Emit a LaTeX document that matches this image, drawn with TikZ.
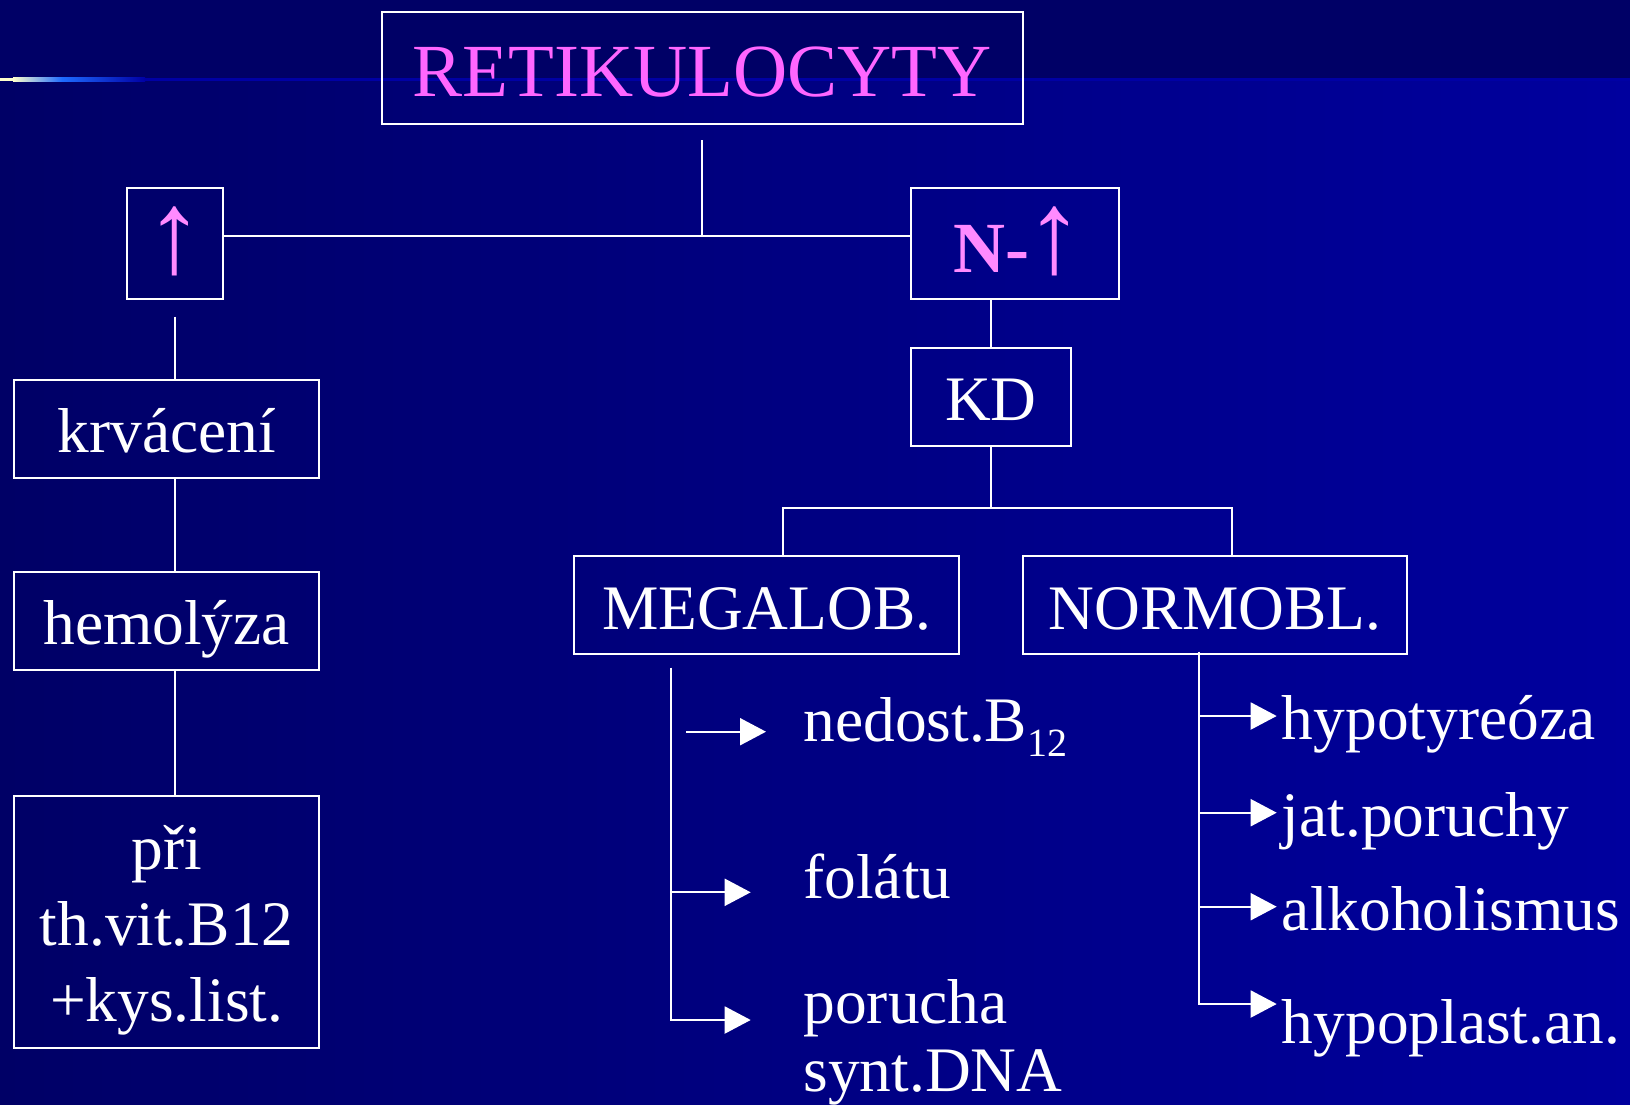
\documentclass[tikz,border=0pt]{standalone}
\usepackage{fontspec}
\setmainfont{Liberation Serif}
\usetikzlibrary{arrows.meta}
\definecolor{bgdark}{HTML}{000066}
\definecolor{bgright}{HTML}{00009E}
\definecolor{pinkA}{HTML}{FF66FF}
\definecolor{pinkB}{HTML}{FF8AFF}
\definecolor{glowline}{HTML}{0000A4}
\definecolor{cream}{HTML}{FFFFCC}
\definecolor{brightblue}{HTML}{1E6BFF}
\newcommand{\bigup}{{\fontsize{117}{120}\selectfont ↑}}
\begin{document}
\begin{tikzpicture}[x=1pt,y=-1pt,
  box/.style={draw=white, line width=2pt, inner sep=0pt, text depth=0pt, align=center},
  body/.style={font=\fontsize{63.4}{76.2}\selectfont, text=white},
  link/.style={draw=white, line width=2pt},
  arr/.style={link, -{Triangle[length=26pt,width=27pt]}},
  item/.style={body, anchor=base west, inner sep=0pt}]
\useasboundingbox (0,0) rectangle (1630,1104);
% background
\fill[bgdark] (0,0) rectangle (1630,1104);
\shade[left color=bgdark, right color=bgright] (0,79) rectangle (1630,1104);
\fill[glowline] (145,77.5) rectangle (1630,81);
\fill[cream] (0,77.5) rectangle (13,81);
\shade[left color=cream, right color=brightblue] (13,77.5) rectangle (62,81);
\shade[left color=brightblue, right color=glowline] (62,77.5) rectangle (145,81);

% boxes
\node[box, minimum width=641.5pt, minimum height=112.3pt, text height=57.7pt,
      font=\fontsize{75}{80}\selectfont, text=pinkA] (ret) at (702.25,67.85) {RETIKULOCYTY};
\node[box, minimum width=95.7pt, minimum height=111pt, text height=57.8pt,
      font=\fontsize{72}{80}\selectfont, text=pinkB] (up) at (174.65,243.8) {\bigup};
\node[box, minimum width=208pt, minimum height=111pt, text height=57.8pt,
      font=\fontsize{72}{80}\selectfont, text=pinkB] (nup) at (1015,243.8) {\kern7pt\textbf{N-}\kern-4pt\bigup};
\node[box, body, minimum width=160.3pt, minimum height=98pt, text height=46.8pt] (kd) at (990.85,397.3) {KD};
\node[box, body, minimum width=384.6pt, minimum height=98pt, text height=47.4pt] (mega) at (766.7,605.3) {MEGALOB.};
\node[box, body, minimum width=384.6pt, minimum height=98pt, text height=47.4pt] (norm) at (1215.1,605.3) {NORMOBL.};
\node[box, body, minimum width=305.3pt, minimum height=98.3pt, text height=47.1pt] (krv) at (166.65,429.15) {krvácení};
\node[box, body, minimum width=305.3pt, minimum height=97.7pt, text height=45.7pt] (hem) at (166.65,621.15) {hemolýza};
\node[box, body, minimum width=305.3pt, minimum height=252pt, text height=0pt, text depth=104.8pt] (pri) at (166.65,921.7)
  {\begin{tabular}[t]{@{}c@{}}při\\th.vit.B12\\+kys.list.\end{tabular}};

% tree connectors
\coordinate (hj) at (702.7,236.3);
\draw[link] ([yshift=-15.3pt]ret.south) -- (ret.south |- hj);
\draw[link] (up.east |- hj) -- (nup.west |- hj);
\draw[link] (kd.north |- nup.south) -- (kd.north);
\coordinate (kdj) at (990.85,508.3);
\coordinate (mj) at (782.5,508.3);
\coordinate (nj) at (1231.5,508.3);
\draw[link] (kd.south) -- (kd.south |- kdj);
\draw[link] (mj |- mega.north) -- (mj) -- (nj) -- (nj |- norm.north);
\draw[link] ([yshift=-16.4pt]up.south) -- (up.south |- krv.north);
\draw[link] (up.south |- krv.south) -- (up.south |- hem.north);
\draw[link] (up.south |- hem.south) -- (up.south |- pri.north);

% megaloblastic list
\node[item] (ned) at (803.3,741) {nedost.B\raisebox{-15pt}{\fontsize{40}{40}\selectfont 12}};
\node[item] (fol) at (803.3,898.3) {folátu};
\node[item, font=\fontsize{63.4}{68.4}\selectfont] (por) at (803.3,1023.3)
  {\begin{tabular}[t]{@{}l@{}}porucha\\synt.DNA\end{tabular}};
\coordinate (mv) at (670.6,667.7);
\coordinate (t1s) at (686,731.7);
\coordinate (t1) at (766,731.7);
\coordinate (t2) at (750.7,892.3);
\coordinate (t3) at (750.7,1020);
\draw[arr] (t1s) -- (t1);
\draw[arr] (mv |- t2) -- (t2);
\draw[arr] (mv) -- (mv |- t3) -- (t3);

% normoblastic list
\node[item] (hyt) at (1281.7,739) {hypotyreóza};
\node[item] (jat) at (1281.7,836.7) {jat.poruchy};
\node[item] (alk) at (1281.7,930.7) {alkoholismus};
\node[item] (hyp) at (1281.7,1043) {hypoplast.an.};
\coordinate (rv) at (1199,651.7);
\coordinate (r1) at (1276.7,716);
\coordinate (r2) at (1276.7,812.7);
\coordinate (r3) at (1276.7,906.7);
\coordinate (r4) at (1276.7,1004);
\draw[arr] (rv |- r1) -- (r1);
\draw[arr] (rv |- r2) -- (r2);
\draw[arr] (rv |- r3) -- (r3);
\draw[arr] (rv) -- (rv |- r4) -- (r4);
\end{tikzpicture}
\end{document}
